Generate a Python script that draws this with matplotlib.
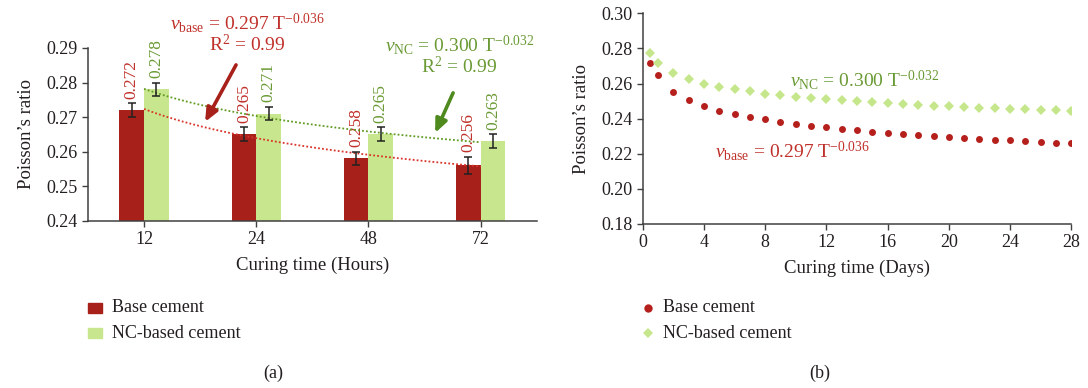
import numpy as np
import matplotlib
matplotlib.use("Agg")
import matplotlib.pyplot as plt

plt.rcParams["font.family"] = ["Liberation Serif", "DejaVu Serif"]
plt.rcParams["mathtext.fontset"] = "custom"
plt.rcParams["mathtext.rm"] = "Liberation Serif"
plt.rcParams["mathtext.it"] = "Liberation Serif:italic"

# (a) bar data
hours = ["12", "24", "48", "72"]
base_vals = [0.272, 0.265, 0.258, 0.256]
nc_vals = [0.278, 0.271, 0.265, 0.263]
base_err = [0.002, 0.002, 0.002, 0.0025]
nc_err = [0.002, 0.002, 0.002, 0.002]

# (b) scatter data
days = [0.5] + list(range(1, 29))
base_days = [0.2717, 0.2649, 0.2552, 0.2506, 0.2472, 0.2445, 0.2426, 0.2409, 0.2396,
             0.2381, 0.2369, 0.2360, 0.2350, 0.2343, 0.2333, 0.2326, 0.2320, 0.2312,
             0.2307, 0.2301, 0.2295, 0.2290, 0.2284, 0.2280, 0.2276, 0.2271, 0.2267,
             0.2263, 0.2259]
nc_days = [0.2776, 0.2717, 0.2658, 0.2624, 0.2599, 0.2582, 0.2567, 0.2556, 0.2542,
           0.2533, 0.2525, 0.2518, 0.2510, 0.2504, 0.2499, 0.2493, 0.2487, 0.2482,
           0.2478, 0.2474, 0.2470, 0.2466, 0.2462, 0.2459, 0.2455, 0.2453, 0.2449,
           0.2447, 0.2445]

RED = "#a8201a"
GREEN = "#c8e68d"
RED_TXT = "#c0302a"
GREEN_TXT = "#6a9a34"
AX = "#404040"

fig = plt.figure(figsize=(10.88, 3.88), dpi=100)
ax1 = fig.add_axes([0.0808, 0.4314, 0.4126, 0.4449])
ax2 = fig.add_axes([0.5907, 0.4227, 0.3940, 0.5430])

for ax in (ax1, ax2):
    for s in ("top", "right"):
        ax.spines[s].set_visible(False)
    for s in ("left", "bottom"):
        ax.spines[s].set_color(AX)
        ax.spines[s].set_linewidth(1.1)
    ax.tick_params(direction="out", length=4, width=1, color=AX, labelsize=13,
                   labelcolor="#231f20")

# ---- panel (a)
x = np.arange(len(hours))
w = 0.22
ax1.bar(x - w / 2, base_vals, w, color=RED, zorder=2)
ax1.bar(x + w / 2, nc_vals, w, color=GREEN, zorder=2)
ax1.errorbar(x - w / 2, base_vals, yerr=base_err, fmt="none", ecolor="#222222",
             elinewidth=1.1, capsize=3, capthick=1.1, zorder=4)
ax1.errorbar(x + w / 2, nc_vals, yerr=nc_err, fmt="none", ecolor="#222222",
             elinewidth=1.1, capsize=3, capthick=1.1, zorder=4)

for i in range(len(hours)):
    ax1.text(x[i] - w / 2, base_vals[i] + base_err[i] + 0.0013, f"{base_vals[i]:.3f}",
             rotation=90, ha="center", va="bottom", color=RED_TXT, fontsize=12.5)
    ax1.text(x[i] + w / 2, nc_vals[i] + nc_err[i] + 0.0013, f"{nc_vals[i]:.3f}",
             rotation=90, ha="center", va="bottom", color=GREEN_TXT, fontsize=12.5)

# power trend lines (fit on category index, as the spreadsheet does)
idx = x + 1
xs = np.linspace(0, 3, 60)
for vals, col in ((base_vals, "#d9342b"), (nc_vals, "#5f9a22")):
    b, lna = np.polyfit(np.log(idx), np.log(vals), 1)
    ax1.plot(xs, np.exp(lna) * (xs + 1) ** b, linestyle=(0, (1, 1.2)), color=col,
             linewidth=1.3, zorder=3)

ax1.set_xlim(-0.5, 3.5)
ax1.set_ylim(0.24, 0.29)
ax1.set_yticks([0.24, 0.25, 0.26, 0.27, 0.28, 0.29])
ax1.set_xticks(x)
ax1.set_xticklabels(hours)
ax1.set_xlabel("Curing time (Hours)", fontsize=13.5, color="#231f20", labelpad=6)
ax1.set_ylabel("Poisson\u2019s ratio", fontsize=13.5, color="#231f20", labelpad=8)

ax1.text(0.355, 1.145, r"$\nu_{\rm base}$ = 0.297 T$^{-0.036}$", transform=ax1.transAxes,
         ha="center", va="center", color=RED_TXT, fontsize=14)
ax1.text(0.355, 1.02, r"R$^2$ = 0.99", transform=ax1.transAxes,
         ha="center", va="center", color=RED_TXT, fontsize=14)
ax1.text(0.828, 1.015, r"$\nu_{\rm NC}$ = 0.300 T$^{-0.032}$", transform=ax1.transAxes,
         ha="center", va="center", color=GREEN_TXT, fontsize=14)
ax1.text(0.828, 0.89, r"R$^2$ = 0.99", transform=ax1.transAxes,
         ha="center", va="center", color=GREEN_TXT, fontsize=14)
ax1.annotate("", xy=(0.544, 0.2686), xytext=(0.82, 0.2851),
             arrowprops=dict(arrowstyle="-|>,head_length=0.8,head_width=0.35",
                             color=RED, lw=2.6, shrinkA=0, shrinkB=0))
ax1.annotate("", xy=(2.594, 0.2654), xytext=(2.754, 0.2770),
             arrowprops=dict(arrowstyle="-|>,head_length=0.8,head_width=0.35",
                             color="#4e8a1e", lw=2.6, shrinkA=0, shrinkB=0))

# ---- panel (b)
ax2.plot(days, base_days, "o", color="#b5201c", markersize=5, markeredgewidth=0)
ax2.plot(days, nc_days, "D", color="#c5e68a", markersize=5, markeredgewidth=0)
ax2.set_xlim(0, 28)
ax2.set_ylim(0.18, 0.30)
ax2.set_xticks(range(0, 29, 4))
ax2.set_yticks(np.arange(0.18, 0.301, 0.02))
ax2.set_yticklabels([f"{v:.2f}" for v in np.arange(0.18, 0.301, 0.02)])
ax2.set_xlabel("Curing time (Days)", fontsize=13.5, color="#231f20", labelpad=6)
ax2.set_ylabel("Poisson\u2019s ratio", fontsize=13.5, color="#231f20", labelpad=8)
ax2.text(14.5, 0.2622, r"$\nu_{\rm NC}$ = 0.300 T$^{-0.032}$", ha="center", va="center",
         color=GREEN_TXT, fontsize=14)
ax2.text(9.8, 0.2215, r"$\nu_{\rm base}$ = 0.297 T$^{-0.036}$", ha="center", va="center",
         color=RED_TXT, fontsize=14)

# ---- legends drawn as figure text
fig.patches.append(plt.Rectangle((88 / 1088, 1 - 313 / 388), 14 / 1088, 10 / 388,
                                 transform=fig.transFigure, color=RED))
fig.patches.append(plt.Rectangle((88 / 1088, 1 - 338 / 388), 14 / 1088, 10 / 388,
                                 transform=fig.transFigure, color=GREEN))
fig.text(112 / 1088, 1 - 308 / 388, "Base cement", fontsize=13, va="center", color="#231f20")
fig.text(112 / 1088, 1 - 333 / 388, "NC-based cement", fontsize=13, va="center", color="#231f20")

fig.lines.append(plt.Line2D([648 / 1088], [1 - 308 / 388], marker="o", markersize=6,
                            color="#b5201c", markeredgewidth=0, transform=fig.transFigure))
fig.lines.append(plt.Line2D([648 / 1088], [1 - 333 / 388], marker="D", markersize=5.5,
                            color="#c5e68a", markeredgewidth=0, transform=fig.transFigure))
fig.text(663 / 1088, 1 - 308 / 388, "Base cement", fontsize=13, va="center", color="#231f20")
fig.text(663 / 1088, 1 - 333 / 388, "NC-based cement", fontsize=13, va="center", color="#231f20")

fig.text(273 / 1088, 1 - 373 / 388, "(a)", fontsize=13, ha="center", va="center", color="#231f20")
fig.text(820 / 1088, 1 - 373 / 388, "(b)", fontsize=13, ha="center", va="center", color="#231f20")

fig.savefig("out.png", dpi=100)
